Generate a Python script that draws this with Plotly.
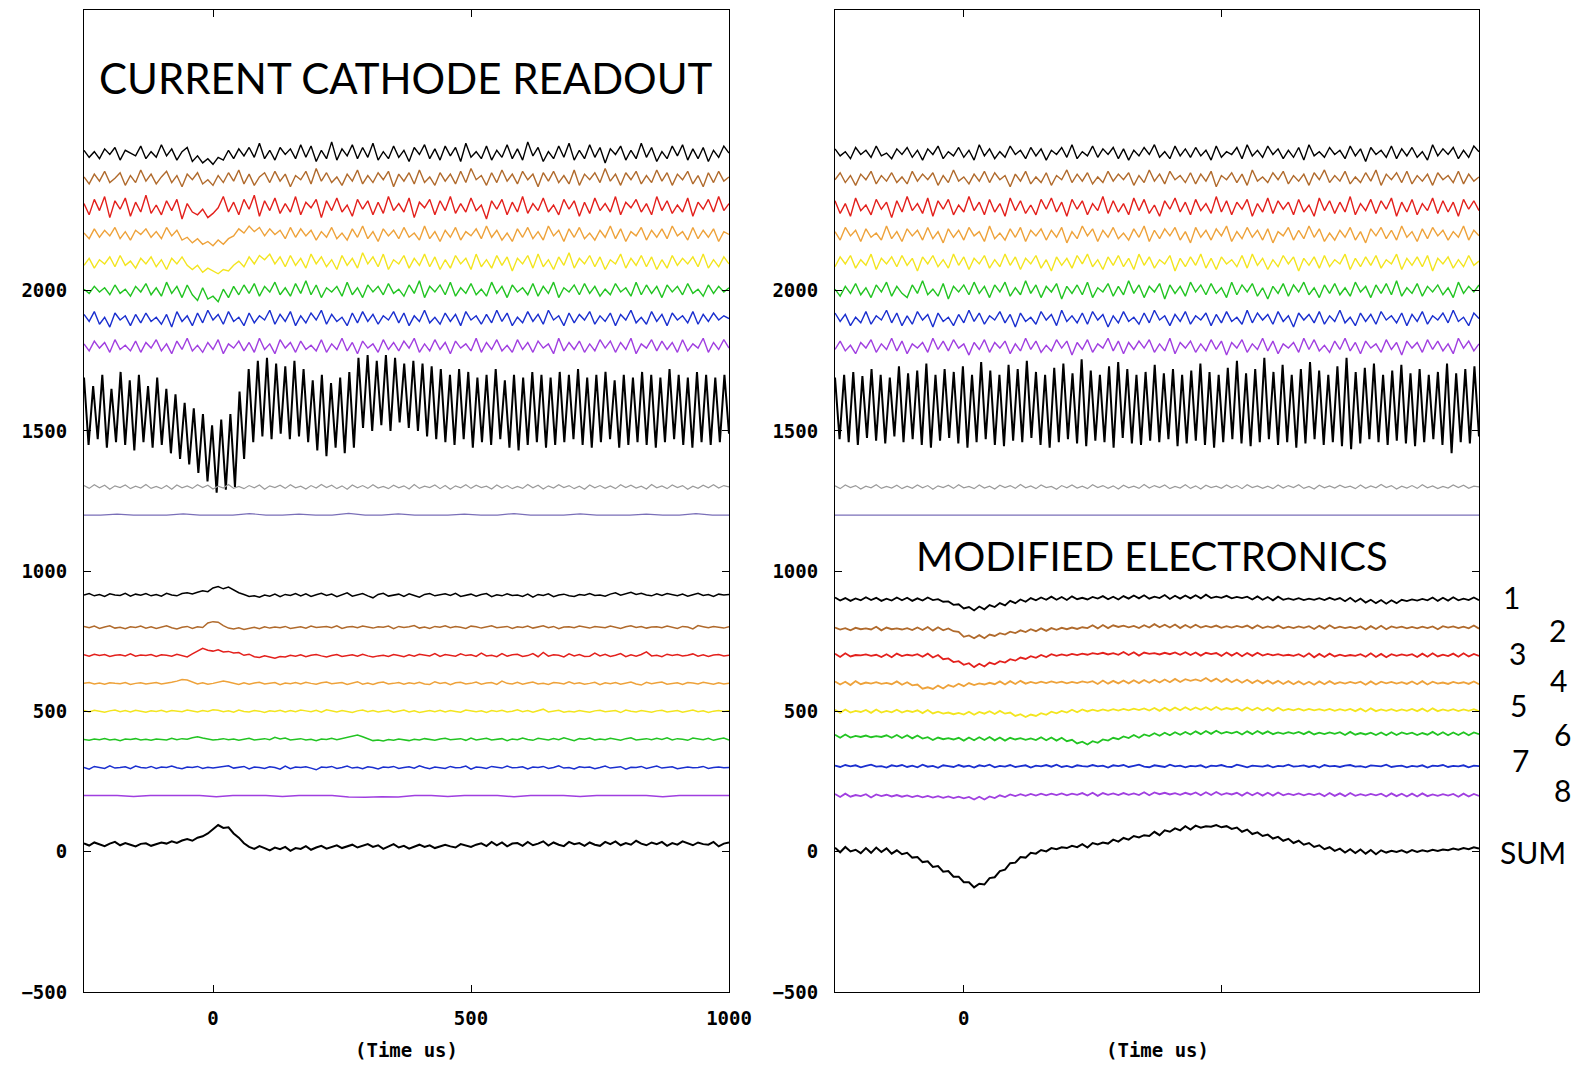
import numpy as np
import plotly.graph_objects as go

# ---------------- DATA ----------------
T_START, T_END = -250, 1000          # time axis (us)
COLORS = ["#000000", "#b06a2c", "#e3201c", "#eea23a", "#f3e51f", "#22c422", "#1a2fcf", "#a03fe0"]

# ---- left panel: "current cathode readout" ----
left_top_base = [2490, 2400, 2300, 2200, 2100, 2000, 1900, 1800]
left_top_dev = [
    [10,-15,5,-20,15,-5,20,-25,10,0,-10,25,-20,5, -15,30,-10,15,-25,5,20,-30,-10,-35,-20,-40,-15,-25,
     10,-20,15,-10,20,-15,35,-20,10,-25,20,-5,15,-20, 30,-15,25,-30,10,-20,40,-25,15,-10,30,-20,20,-15,
     35,-25,5,-20,25,-15,10,-30,20,-5,30,-20,15,-25, 25,-10,20,-30,35,-15,5,-20,25,-25,10,-15,30,-20,
     15,-25,40,-10,20,-30,5,-20,25,-15,35,-25,10,-20, 30,-15,20,-35,15,-5,25,-25,10,-20,35,-15,20,-30,
     5,-20,25,-10,30,-25,15,-20,20,-30,10,-15,25,0],
    [5,-20,15,-10,25,-15,0,20,-25,10,-15,30,-10,15, -20,5,25,-15,10,-30,15,-5,20,-20,-5,-25,10,-15,
     20,-10,30,-20,15,-25,5,20,-15,25,-10,15,-30,10, -5,25,-20,35,-10,20,-15,5,-25,15,-10,30,-20,10,
     -15,20,-5,25,-30,15,-10,20,-20,30,-15,5,-25,20, -10,15,-20,25,-15,35,-5,10,-25,20,-15,30,-10,15,
     -20,25,-5,15,-30,20,-10,25,-15,10,-20,30,-25,15, -5,20,-15,35,-10,15,-25,20,-5,25,-20,10,-15,30,
     -10,20,-25,15,-5,25,-20,10,-30,20,-15,25,-10,5],
    [10,-30,25,-15,35,-40,20,-10,30,-35,15,-20,40,-25, 5,-30,20,-15,25,-45,10,-20,-30,-10,-40,-25,-5,35,
     -20,15,-30,25,-10,40,-35,20,-15,30,-25,10,-20,35, -30,15,-5,25,-40,20,-15,30,-20,5,-35,25,-10,20,
     -30,15,-25,35,-15,10,-20,30,-40,15,-5,25,-30,20, -15,35,-25,10,-20,30,-15,5,-45,20,-10,25,-30,15,
     -20,35,-25,10,-15,30,-20,5,-30,25,-10,20,-35,15, -25,30,-15,10,-20,35,-30,15,-5,25,-20,10,-30,35,
     -15,20,-25,5,-20,30,-35,15,-10,25,-20,35,-15,10],
    [5,-15,20,-10,15,-5,25,-15,10,-20,15,0,20,-10, 10,-15,25,-5,15,-20,-10,-30,-15,-35,-25,-40,-20,-35,
     -15,-5,20,5,30,10,25,-5,20,0,15,-15,25,-10, 20,-5,15,-20,10,-10,25,-15,5,-20,20,-10,30,-15,
     10,-25,20,-5,15,-15,25,-10,5,-20,30,-15,10,-25, 15,-10,25,-20,10,-5,20,-15,30,-10,15,-20,5,-25,
     20,-10,25,-15,10,-20,30,-5,15,-25,20,-10,25,-15, 5,-20,15,-10,30,-15,20,-25,10,-5,25,-20,15,-10,
     20,-15,30,-5,10,-20,25,-15,15,-10,20,-25,10,0],
    [-10,15,-20,10,-5,20,-15,25,-10,5,-20,15,-5,20, -15,10,-25,15,-5,20,-10,-25,-10,-35,-20,-30,-40,-25,
     -30,-10,5,-15,20,-5,25,10,30,-5,20,-15,25,-10, 15,-20,30,-5,20,-15,10,-25,25,-10,15,-20,35,-5,
     20,-15,30,-25,10,-5,25,-20,15,-10,30,-15,20,-25, 10,-20,25,-5,15,-25,30,-15,10,-20,25,-10,20,-30,
     15,-5,25,-20,30,-15,10,-25,20,-10,35,-20,15,-5, 25,-15,20,-25,10,-5,30,-20,15,-10,25,-15,20,-25,
     10,-20,25,-10,15,-5,20,-15,30,-20,10,-15,20,-5],
    [5,-10,15,-5,10,-15,20,-10,5,-20,15,-5,25,-15, 10,-20,30,-10,15,-25,20,-15,-35,10,-30,-20,-40,5,
     -25,15,-15,20,-10,25,-20,15,-5,30,-15,10,-20,25, -10,35,-15,20,-25,10,-5,15,-20,30,-15,10,-25,20,
     -5,15,-15,25,-10,5,-20,20,-10,35,-25,15,-5,20, -15,30,-20,10,-10,25,-15,5,-20,30,-10,15,-25,20,
     -5,10,-15,25,-20,15,-10,30,-25,10,-5,20,-15,25, -10,15,-20,5,-15,25,-5,10,-20,30,-15,20,-10,15,
     -25,20,-5,15,-15,25,-10,5,-20,20,-10,15,-5,10],
    [15,-10,25,-20,5,-30,20,-5,10,-25,15,-15,20,-10, 5,-20,15,-30,25,-10,10,-25,20,-15,30,-5,15,-20,
     25,-10,5,-25,20,-15,10,-5,30,-20,15,-10,25,-25, 10,-15,20,-5,30,-20,15,-10,5,-25,20,-15,25,-10,
     15,-20,10,-5,25,-15,20,-25,10,-10,30,-15,5,-20, 20,-10,15,-25,25,-5,10,-20,15,-15,30,-10,20,-25,
     5,-15,25,-10,15,-20,30,-5,10,-25,20,-15,15,-5, 25,-20,10,-10,20,-25,15,-5,30,-15,5,-20,25,-10,
     15,-25,20,-5,10,-15,25,-20,15,-10,20,-5,10,0],
    [10,-15,20,-5,15,-20,25,-10,5,-15,20,-20,15,-5, 25,-15,10,-25,20,-10,30,-15,5,-20,15,-10,25,-25,
     10,-5,20,-15,15,-20,30,-10,10,-25,25,-5,15,-20, 20,-10,5,-15,25,-20,10,-10,30,-15,15,-25,20,-5,
     10,-20,25,-10,15,-15,20,-5,30,-20,10,-15,25,-10, 15,-25,20,-5,10,-15,30,-20,15,-10,25,-15,5,-20,
     25,-10,15,-20,20,-5,10,-25,30,-15,15,-10,20,-20, 10,-15,25,-5,20,-20,15,-10,30,-25,10,-5,25,-15,
     20,-10,15,-20,25,-15,10,-5,30,-20,15,-10,25,-5],
]
# big oscillating black trace: successive peak / trough values
left_osc_high = [1690,1660,1700,1650,1710,1680,1700,1660,1690, 1650,1630,1600,1580, 1560,1520,1540,1560,
                 1640,1720, 1750,1760,1740,1730,1750,1720, 1680,1700,1670,1690,1710,
                 1760,1770,1750,1770,1760,1740,1750,
                 1740,1730,1720,1700,1720,1710,1690,1700,1720,1680,1700,1690,1710,1700,
                 1690,1710,1700,1720,1690,1700,1710,1680,1700,1690,1710,1700,1690,1720,1700,1690,1710,1700,1690,1700]
left_osc_low = [1450,1470,1440,1460,1450,1430,1460,1440,1450, 1420,1400,1380,1350, 1320,1280,1290,1300,
                1400,1460, 1480,1470,1490,1470,1480,1460, 1430,1410,1440,1420,1440,
                1510,1500,1520,1500,1530,1510,1500,
                1480,1470,1460,1450,1470,1440,1460,1450,1470,1440,1430,1450,1460,1440,
                1450,1460,1470,1450,1440,1460,1470,1440,1450,1460,1450,1440,1460,1470,1450,1440,1460,1450,1460,1490]
left_gray_base = 1300
left_gray_dev = [5,-5,8,-3,6,-8,4,-2,7,-6,3,-4,9,-5, 2,-6,5,-8,7,-3,4,-5,8,-2,6,-7,3,-4,
                 9,-5,2,-6,5,-3,7,-8,4,-2,6,-5,8,-3, 3,-7,5,-4,9,-2,6,-6,4,-8,7,-3,5,-5,
                 8,-4,2,-6,6,-3,4,-7,9,-5,3,-2,7,-6, 5,-8,4,-3,8,-5,6,-2,3,-7,7,-4,5,-6,
                 2,-5,9,-3,6,-7,4,-4,8,-2,5,-6,3,-8, 7,-3,5,-5,4,-6,8,-2,6,-4,3,-7,9,-3,
                 4,-6,7,-2,5,-8,3,-5,6,-3,8,-4,5,0]
left_slate_base = 1200
left_slate_dev = [0,0,3,0,0,0,4,0,0,0,5,0,0,3,0,0,6,0,0,4,0,0,0,3,0,0,5,0,0,0,4,0,0,0,3,0,0,5,0,0]

left_low_base = [915, 800, 700, 600, 500, 400, 300, 200]
left_low_dev = [
    [0,5,-3,2,-5,4,0,-2,6,-4,3,-1,5,-3, 2,-4,6,0,-3,5,8,4,10,15,12,25,30,22,
     28,18,8,2,-5,-3,-8,0,-4,3,-6,2,-2,5, -3,4,-5,1,6,-2,3,-6,2,8,-4,0,5,-3,
     -10,2,6,-4,0,3,-5,4,-2,-8,2,5,-3,1, 4,-2,6,-5,0,3,-4,2,5,-6,1,-3,4,-2,
     0,-5,3,-8,2,-2,4,-6,0,3,-3,-5,2,-1, 5,-2,0,-4,3,8,-1,4,10,2,6,0,-3,4,
     -2,5,0,-3,3,-4,1,6,-2,2,-5,3,0,2],
    [3,-2,4,-4,1,5,-3,0,-5,2,-1,4,-3,2, -4,1,5,-2,-6,0,3,-4,2,-1,15,20,18,6,
     -3,-6,-2,-8,-4,0,-5,2,-3,1,-2,3,-4,0, 2,-3,4,-1,0,3,-2,5,-4,1,3,-2,4,0,
     -3,2,0,4,-5,3,-1,2,6,-3,1,-4,3,0, 5,-2,3,0,-4,4,2,-3,1,5,-2,0,3,-4,
     2,-1,4,-3,0,5,-2,3,-5,1,2,-2,4,0, -3,3,1,-2,4,0,-4,2,5,-1,3,-3,1,2,
     -2,4,0,-4,3,1,-6,6,2,-2,3,0,-3,2],
    [2,-3,4,-1,3,-4,0,2,-2,5,-3,1,-1,3, -4,2,0,-3,4,-1,-6,5,15,25,18,15,20,12,
     14,8,10,0,4,-5,-8,-2,-6,-10,-4,-6,0,-3, 2,-5,0,3,-2,-6,-1,3,-4,0,2,-3,4,-2,
     -6,-2,0,-4,3,-1,-5,2,-3,4,0,-2,6,-4, 3,0,-3,5,-1,2,-4,8,-2,0,-5,6,-3,2,
     4,-4,-1,6,-5,10,-3,2,0,-6,5,-2,3,-4, -3,8,-2,4,-4,0,6,-5,2,-3,3,12,-2,0,
     -5,4,-1,3,-2,0,5,-3,2,-4,1,3,-2,0],
    [0,3,-2,1,-3,2,0,-1,3,-4,0,2,-2,1, 3,-2,0,4,8,14,12,6,-2,2,-3,0,4,8,
     5,0,-4,2,-3,1,4,-2,0,3,-5,1,-1,3, -2,4,0,-3,2,5,-1,0,3,-4,2,6,-3,1,
     -4,2,5,-2,0,3,-3,2,-1,4,-2,-4,6,0, 3,-5,2,4,-2,0,5,-3,1,3,-4,8,0,-2,
     4,-3,1,5,-2,0,-4,3,1,-2,6,-1,2,-3, 0,4,-5,2,-1,3,-3,0,5,-2,-6,4,-1,2,
     5,-3,0,2,-4,3,1,-2,4,0,-3,2,-2,0],
    [3,-2,4,0,-3,2,5,-1,3,-2,4,1,-3,2, 0,4,-2,3,1,-1,5,2,-2,3,0,6,4,-1,
     2,-3,5,0,-2,3,1,-4,2,0,4,-2,3,-1, 5,2,-1,4,-3,6,1,-2,3,0,-4,2,5,-1,
     3,-2,0,4,-3,1,5,-2,2,-4,0,3,-1,4, -2,3,0,-3,5,1,-1,2,-4,3,0,4,-2,1,
     6,-1,3,-3,2,8,-2,0,4,-3,1,-2,3,0, -3,2,4,-1,0,3,-4,5,1,-2,3,0,-3,2,
     4,-2,1,3,-3,0,5,-1,2,-4,1,3,0,2],
    [0,-3,2,-1,3,-2,1,-4,2,0,3,-2,1,-3, 2,0,-2,4,-1,3,1,6,10,5,2,-2,0,3,
     -1,2,-3,1,4,-2,0,3,-1,8,2,5,-2,0, 3,-2,1,-4,2,0,4,-1,3,6,12,16,10,4,
     -4,-2,-5,0,-3,2,-1,-4,1,-2,3,0,-3,2, 4,-1,0,3,-3,5,-2,1,4,-2,0,3,-4,2,
     -1,5,0,-3,4,2,-2,3,-1,6,0,-4,3,1, 5,-2,2,-1,4,0,-3,3,6,-2,1,3,-1,4,
     0,6,-2,3,1,-3,5,2,-1,4,-3,2,5,-2],
    [0,-6,4,0,-3,6,-2,0,3,-4,5,0,-2,4, -3,2,0,5,-1,-4,2,0,4,-3,1,-2,0,3,
     6,-2,0,4,-5,2,0,-3,3,0,-6,5,-4,2, 0,3,-2,-8,2,0,4,-3,0,5,-2,1,-4,3,
     0,-5,2,0,4,-3,0,3,-2,6,0,-4,2,0, -3,4,-1,0,5,-6,2,0,-3,4,0,-2,5,-1,
     0,3,-5,2,0,4,-3,0,6,-2,0,-5,3,0, 2,-4,0,5,-2,0,3,-6,1,0,4,-3,0,5,
     -2,0,3,-4,0,2,-1,0,4,-3,0,2,-1,0],
    [0,0,0,-3,0,0,0,0,-4,0,0,0,-3,0,0,0,-5,-6,-4,-5,0,0,-3,0,0,0,-4,0,0,0,-3,0,0,0,0,-4,0,0,0,0],
]
left_sum_base = 25
left_sum_dev = [5,-3,8,2,-5,4,10,-2,6,0,-6,3,5,-4, 2,8,4,12,6,15,20,14,25,30,40,55,70,60,
                62,40,25,5,-8,-15,-5,-12,-20,-10,-16,-8,-22,-12, -15,-5,-18,-10,-4,-14,-8,-2,-12,-6,0,-10,-4,2,
                -8,-2,-15,-5,2,-10,-4,-14,-6,0,-8,-2,-12,-5, 0,-6,-10,2,-4,-8,0,5,-5,10,-2,8,-6,4,
                6,-4,10,-2,4,12,-3,8,0,-5,10,2,6,-4, 8,0,-4,10,2,12,-2,6,0,14,4,-2,8,2,
                10,-4,6,0,12,4,-2,8,2,0,10,-6,4,8]

# ---- right panel: "modified electronics" ----
right_top_base = [2490, 2400, 2300, 2200, 2100, 2000, 1900, 1800]
right_top_dev = [
    [15,-10,5,-20,20,-5,10,-15,25,-10,0,-20,15,-5, 20,-15,10,-25,15,-5,25,-20,5,-10,20,-15,10,-25,
     30,-10,15,-20,5,-15,25,-5,10,-20,20,-10,15,-25, 10,-5,20,-15,30,-20,5,-10,25,-15,15,-5,20,-20,
     15,-25,10,-10,20,-5,30,-15,5,-20,25,-10,15,-15, 20,-10,10,-25,25,-15,5,-5,20,-20,30,-10,10,-15,
     25,-5,15,-20,10,-15,20,-25,30,-10,5,-15,20,-5, 10,-20,25,-10,15,-30,20,-5,10,-15,25,-20,15,-10,
     20,-15,5,-25,30,-10,15,-5,20,-20,10,-15,25,5],
    [-5,20,-15,10,-25,15,-5,25,-20,10,-10,20,-15,5, -20,25,-10,15,-5,20,-25,10,-15,30,-10,5,-20,15,
     -10,25,-15,20,-5,10,-30,15,-10,25,-20,5,-15,20, -25,10,-5,30,-15,15,-10,20,-20,5,-15,25,-10,15,
     -5,20,-25,10,-15,30,-10,15,-20,25,-5,10,-15,20, -20,15,-10,25,-30,10,-5,20,-15,15,-25,30,-10,5,
     -15,20,-5,25,-20,10,-10,15,-25,20,-5,30,-15,10, -10,25,-20,5,-15,20,-10,30,-25,15,-5,20,-15,25,
     -20,10,-10,15,-25,20,-5,10,-15,25,-20,15,-10,5],
    [20,-25,10,-35,30,-15,5,-30,25,-10,15,-40,20,-20, 35,-15,10,-25,30,-35,20,-10,25,-30,5,-20,35,-15,
     15,-30,25,-20,10,-35,30,-15,20,-25,5,-30,25,-10, 30,-20,15,-35,25,-10,20,-30,10,-15,35,-25,20,-20,
     10,-30,30,-15,25,-25,5,-35,20,-10,30,-20,15,-30, 25,-15,10,-25,35,-20,20,-30,15,-10,25,-35,10,-20,
     30,-25,20,-10,15,-30,25,-20,5,-35,30,-15,20,-25, 15,-20,35,-30,10,-15,25,-25,20,-10,30,-35,15,-20,
     25,-30,10,-15,30,-25,20,-20,15,-35,25,-10,20,-15],
    [10,-20,25,-5,15,-25,20,-10,5,-20,30,-15,10,-25, 20,-5,15,-20,25,-15,10,-30,20,-10,15,-20,25,-5,
     10,-25,30,-15,5,-20,20,-10,25,-25,15,-5,20,-20, 15,-10,25,-30,10,-15,30,-5,20,-25,15,-10,25,-15,
     5,-20,20,-10,30,-25,15,-15,20,-5,25,-20,10,-30, 25,-10,15,-20,20,-5,30,-25,10,-15,25,-10,15,-20,
     20,-30,10,-5,25,-20,15,-15,30,-10,20,-25,5,-20, 15,-10,25,-20,10,-30,20,-5,25,-15,15,-20,30,-10,
     10,-25,20,-15,25,-5,15,-20,10,-10,30,-20,15,-5],
    [-15,20,-5,25,-20,10,-10,30,-25,15,-5,20,-15,25, -10,15,-30,20,-5,25,-15,10,-20,30,-10,20,-25,15,
     -5,25,-20,10,-15,30,-10,20,-25,15,-5,25,-20,10, -30,20,-10,15,-20,25,-5,30,-15,10,-25,20,-10,25,
     -15,15,-25,30,-10,20,-20,10,-5,25,-30,15,-15,20, -10,30,-20,15,-25,20,-5,10,-15,25,-20,30,-10,15,
     -25,10,-15,25,-5,20,-30,15,-10,20,-20,25,-15,10, -5,30,-25,15,-15,20,-10,25,-20,10,-5,30,-25,15,
     -10,20,-15,25,-30,15,-5,20,-20,10,-15,25,-10,5],
    [5,-20,15,-10,25,-15,10,-25,20,-5,30,-20,15,-10, -25,20,-10,35,-15,5,-20,25,-30,15,-5,20,-15,30,
     -10,15,-25,20,-5,30,-20,10,-15,35,-10,20,-25,15, -5,25,-30,15,-10,20,-15,30,-25,10,-5,25,-20,15,
     -15,35,-10,20,-25,15,-5,25,-30,20,-10,15,-20,30, -5,20,-15,25,-10,10,-25,30,-15,20,-5,25,-20,10,
     -30,15,-10,25,-20,20,-5,30,-15,10,-25,20,-10,25, -15,10,-20,30,-5,15,-25,20,-10,25,-15,35,-20,10,
     -10,25,-20,15,-5,20,-15,10,-25,30,-10,15,-5,20],
    [20,-10,15,-25,5,-15,25,-20,10,-5,30,-15,20,-25, 10,-20,25,-5,15,-30,20,-10,5,-25,15,-15,30,-10,
     20,-20,10,-5,25,-15,15,-30,20,-10,5,-20,25,-5, 15,-25,30,-10,10,-15,20,-20,25,-5,15,-30,10,-15,
     25,-10,5,-20,20,-15,30,-5,10,-25,15,-10,25,-20, 10,-5,20,-25,15,-15,25,-10,5,-20,30,-15,20,-5,
     15,-20,25,-10,10,-30,20,-5,15,-15,25,-20,10,-10, 30,-15,5,-25,20,-10,15,-20,25,-5,10,-15,20,-25,
     15,-10,25,-20,10,-5,20,-15,30,-10,5,-25,20,0],
    [-10,20,-15,5,-25,15,-5,25,-20,10,-10,30,-15,20, -25,10,-5,15,-20,30,-10,20,-15,25,-5,10,-30,15,
     -10,25,-20,15,-5,20,-25,10,-15,30,-10,20,-20,5, -15,25,-5,20,-30,15,-10,25,-20,10,-5,30,-15,20,
     -25,15,-10,20,-5,25,-20,10,-15,30,-25,15,-5,20, -20,10,-15,25,-10,20,-30,15,-5,25,-20,10,-10,30,
     -15,20,-25,10,-5,15,-20,30,-10,25,-15,5,-20,20, -10,30,-15,15,-25,20,-5,10,-20,25,-10,15,-30,20,
     -5,15,-20,25,-10,20,-15,10,-25,30,-5,20,-15,10],
]
right_osc_high = [1690,1700,1710,1695,1720,1700,1690,1730,1705,1715,1740,1700,1720,1710,1730,1700,1745,1715,
                  1700,1735,1720,1750,1710,1700,1725,1740,1705,1755,1715,1700,1730,1745,1720,1700,1710,1735,
                  1705,1720,1700,1715,1740,1710,1700,1725,1750,1705,1720,1760,1710,1735,1700,1720,1745,1715,
                  1700,1730,1760,1710,1725,1740,1700,1715,1735,1705,1720,1700,1710,1740,1705,1720,1730]
right_osc_low = [1470,1460,1450,1475,1465,1455,1480,1460,1470,1450,1440,1465,1475,1455,1440,1460,1470,1450,
                 1445,1465,1460,1475,1450,1440,1460,1470,1455,1445,1465,1460,1440,1475,1455,1450,1465,1460,
                 1470,1445,1455,1465,1450,1440,1460,1470,1455,1445,1460,1470,1450,1460,1440,1455,1470,1450,
                 1460,1445,1435,1455,1470,1460,1450,1465,1455,1445,1460,1470,1450,1420,1460,1455,1480]
right_gray_base = 1300
right_gray_dev = [4,-6,7,-2,5,-7,3,-3,8,-5,2,-4,6,-6, 3,-5,7,-3,5,-8,4,-2,6,-5,8,-3,2,-6,
                  7,-4,3,-7,6,-2,5,-5,9,-3,4,-6,7,-2, 2,-8,5,-3,7,-4,3,-6,8,-2,5,-5,4,-7,
                  6,-3,3,-5,9,-4,5,-2,7,-6,2,-4,8,-5, 4,-7,6,-2,3,-5,7,-3,5,-6,8,-2,4,-5,
                  3,-6,7,-4,5,-2,8,-5,2,-7,6,-3,4,-4, 6,-2,3,-6,7,-5,4,-3,9,-2,5,-7,3,-4,
                  5,-5,8,-3,4,-6,2,-4,7,-2,6,-5,3,0]
right_slate_base = 1200
right_slate_dev = [0, 0]

right_low_base = [900, 795, 700, 600, 500, 410, 305, 200]
right_low_dev = [
    [6,-5,4,-6,3,-4,7,-3,5,-6,2,-5,6,-4, 5,-6,3,-5,6,-3,0,-9,-8,-20,-18,-33,-28,-40,
     -26,-36,-21,-28,-14,-22,-6,-14,-1,-9,4,-4,6,-2, 9,-2,8,-3,10,0,5,-1,8,2,11,0,9,-1,
     11,2,13,3,14,2,9,4,15,1,12,2,13,3, 14,3,16,4,9,5,12,3,8,4,9,-1,10,-2,
     8,-4,9,-2,3,-2,4,-3,2,-2,4,-3,5,-2, 4,-7,5,-9,2,-12,-2,-14,-3,-16,-4,-14,-2,-7,
     -1,-5,1,-4,6,-6,5,-5,7,-4,2,-3,6,-4],
    [4,-3,2,-6,3,-2,1,-3,7,-6,4,-2,1,-3, 2,-5,4,-5,6,-7,5,-6,1,-9,-11,-29,-24,-34,
     -23,-34,-21,-26,-16,-21,-11,-16,-6,-12,-2,-9,1,-8, 2,-4,3,-2,4,-1,5,2,12,1,13,2,12,6,
     11,5,10,2,12,4,16,5,14,4,15,2,13,3, 14,4,10,5,11,3,9,4,10,5,11,1,12,2,
     8,3,11,1,7,2,8,3,9,-1,10,0,12,1, 7,2,6,1,8,-3,9,-1,10,-2,8,3,7,1,
     6,1,7,2,8,-2,9,4,8,2,7,1,11,0],
    [6,-6,7,-4,1,0,3,-2,2,-6,4,-7,6,-3, 2,-1,4,-5,6,-8,1,-14,-11,-24,-21,-34,-28,-42,
     -30,-40,-26,-32,-21,-26,-14,-19,-8,-13,-3,-9,1,-6, 4,-2,3,-1,5,1,6,2,8,4,9,3,8,2,
     12,1,11,-1,10,5,8,3,9,4,10,2,11,1, 10,-1,9,4,8,-2,10,-1,9,-3,8,-2,9,-1,
     5,0,4,-1,2,-2,4,-5,7,-7,5,-6,6,-4, 2,-3,1,-2,4,-5,7,-6,5,-7,4,-2,3,-1,
     4,-6,6,-5,7,-4,2,-3,6,-5,7,-4,5,-2],
    [7,-4,6,-6,8,-3,3,-1,4,-2,2,-3,7,-5, 4,-7,-4,-19,-14,-20,-8,-18,-6,-12,-1,-10,1,-6,
     0,-4,2,-3,7,-4,8,-2,9,-1,5,0,6,1, 7,2,6,0,5,1,7,3,8,-2,10,-1,9,0,
     10,0,11,1,12,2,13,3,14,4,16,5,15,9, 14,8,19,7,17,5,16,4,14,2,13,1,11,0,
     10,-1,9,-2,8,-3,7,-4,6,-5,7,-3,8,-2, 4,-1,5,0,6,-5,7,-4,6,0,5,-1,4,-2,
     7,-3,8,-4,6,-1,3,-2,5,0,4,-2,7,-3],
    [6,-5,7,-4,2,-2,5,-5,7,-4,2,-3,6,-4, 3,-2,4,-6,5,-7,-1,-8,-4,-10,-5,-11,-1,-12,
     -2,-8,1,-9,2,-8,-4,-16,-10,-20,-11,-16,-6,-12, -1,-7,2,-4,6,-3,7,0,6,1,7,2,8,3,
     9,4,10,5,11,3,12,2,13,3,14,4,15,5, 14,6,15,5,16,6,12,7,13,3,14,4,13,3,
     12,2,13,3,9,4,10,3,9,4,8,3,9,2, 8,3,9,1,10,0,11,1,7,2,8,1,7,2,
     9,1,10,0,11,1,7,2,8,1,7,2,8,1],
    [7,-4,8,-3,3,-1,4,-2,2,-1,5,-4,6,-5, 5,-6,4,-7,-2,-12,-3,-9,-5,-10,-4,-14,-3,-13,
     -2,-12,-1,-13,-3,-14,-4,-10,-5,-11,-6,-12,-2,-13, -3,-14,-4,-16,-11,-24,-18,-28,-16,-22,-10,-14,-4,-9,
     1,-5,6,-4,8,2,12,3,14,5,16,7,17,8, 19,9,20,10,21,11,17,12,18,8,19,9,20,10,
     19,9,15,10,16,11,17,9,18,8,14,9,15,10, 16,6,17,7,13,8,14,6,15,5,16,6,15,9,
     14,6,13,7,17,6,16,5,15,6,16,5,15,9],
    [2,-3,4,-1,3,-4,1,5,-2,0,-5,3,-1,4, -3,2,-4,5,-2,1,-6,3,0,-3,4,-2,2,-5,
     3,-1,5,-4,1,-2,4,-3,0,3,-5,2,-1,4, -2,5,-3,1,-4,3,0,-2,4,-1,2,-5,3,0,
     4,-3,1,5,-2,-4,3,0,-3,5,-1,2,-4,1, -1,3,-5,2,0,4,-2,-3,5,1,-4,2,0,-2,
     3,-4,1,-1,5,-2,0,3,-3,2,-5,4,-1,1, -3,2,4,-2,0,-4,3,1,-1,5,-3,0,2,-4,
     1,-2,3,-5,2,0,4,-3,1,-1,3,-4,2,0],
    [6,-5,7,-4,2,-2,5,-7,4,-2,3,-3,2,-4, 1,-5,0,-6,-1,-7,-2,-8,-3,-9,-4,-10,-5,-14,
     -4,-14,-3,-9,1,-5,4,-2,5,-1,6,0,7,1, 7,2,8,1,7,3,9,0,10,-1,9,3,8,2,
     9,3,8,2,12,1,11,5,10,4,9,3,10,4, 11,1,12,2,13,3,9,4,10,0,11,1,10,0,
     10,0,11,1,7,2,8,1,7,2,8,-2,9,-1, 8,-2,9,-1,5,0,6,1,7,-3,8,-2,7,-3,
     7,-3,8,-2,4,-1,5,0,6,-4,7,-3,6,-1],
]
right_sum_base = 5
right_sum_dev = [9,-7,12,-4,2,-10,8,-9,10,-6,7,-12,0,-14, -9,-26,-24,-42,-39,-59,-56,-76,-74,-94,-94,-114,-114,-132,
                 -119,-122,-99,-96,-74,-69,-46,-44,-24,-26,-9,-12,1,-4, 8,4,11,8,16,11,22,10,26,21,28,24,38,31,
                 44,38,51,46,54,51,66,54,71,66,78,71,86,74, 88,81,86,84,90,82,86,76,81,66,74,58,64,51,
                 56,42,48,34,41,26,34,20,26,12,18,4,11,-2, 6,-8,4,-10,3,-12,1,-14,0,-8,-2,-6,0,-8,
                 1,-6,0,-4,2,-2,3,0,6,2,8,4,11,6]

Y_TICKS = [-500, 0, 500, 1000, 1500, 2000]
X_TICKS = [0, 500, 1000]
LEFT_X_LABELS = ["0", "500", "1000"]
RIGHT_X_LABELS = ["0", "", ""]
TITLES = ["CURRENT CATHODE READOUT", "MODIFIED ELECTRONICS"]
CHANNEL_LABELS = ["1", "2", "3", "4", "5", "6", "7", "8", "SUM"]

# ---------------- FIGURE ----------------
fig = go.Figure()


def add_line(base, dev, color, xa, ya, width=1.3, shape="linear"):
    dev = np.asarray(dev, dtype=float)
    t = np.linspace(T_START, T_END, len(dev))
    fig.add_trace(go.Scatter(x=t, y=base + dev, mode="lines", xaxis=xa, yaxis=ya,
                             line=dict(color=color, width=width, shape=shape),
                             hoverinfo="skip", showlegend=False))


def add_osc(high, low, xa, ya):
    n = min(len(high), len(low))
    vals = np.empty(2 * n)
    vals[0::2] = high[:n]
    vals[1::2] = low[:n]
    add_line(0, vals, "#000000", xa, ya, width=2.0)


for xa, ya, tb, td, oh, ol, gb, gd, sb, sd, lb, ld, smb, smd, lw in [
    ("x", "y", left_top_base, left_top_dev, left_osc_high, left_osc_low, left_gray_base, left_gray_dev,
     left_slate_base, left_slate_dev, left_low_base, left_low_dev, left_sum_base, left_sum_dev, 1.5),
    ("x2", "y2", right_top_base, right_top_dev, right_osc_high, right_osc_low, right_gray_base, right_gray_dev,
     right_slate_base, right_slate_dev, right_low_base, right_low_dev, right_sum_base, right_sum_dev, 1.8),
]:
    for b, d, c in zip(tb, td, COLORS):
        add_line(b, d, c, xa, ya, width=1.4)
    add_osc(oh, ol, xa, ya)
    add_line(gb, gd, "#9a9a9a", xa, ya, width=1.2)
    add_line(sb, sd, "#7a6fb8", xa, ya, width=1.2)
    for b, d, c in zip(lb, ld, COLORS):
        add_line(b, d, c, xa, ya, width=lw)
    add_line(smb, smd, "#000000", xa, ya, width=2.0)

W, H = 1575, 1067
ML, MR, MT, MB = 0, 0, 10, 75
PH = H - MT - MB


def px_x(p):
    return p / W


def px_y(p):
    return (H - MB - p) / PH


tick_font = dict(family="DejaVu Sans Mono", size=19, color="black", weight="bold")
common_x = dict(range=[T_START, T_END], showgrid=False, zeroline=False, showline=True, linecolor="black",
                linewidth=1, mirror="ticks", ticks="inside", ticklen=7, tickcolor="black", automargin=False,
                tickvals=X_TICKS, tickfont=tick_font, ticklabelstandoff=9)
common_y = dict(range=[-500, 3000], showgrid=False, zeroline=False, showline=True, linecolor="black",
                linewidth=1, mirror="ticks", ticks="inside", ticklen=7, tickcolor="black", automargin=False,
                tickvals=Y_TICKS, tickfont=tick_font, ticklabelstandoff=12)

fig.update_layout(
    width=W, height=H, margin=dict(l=ML, r=MR, t=MT, b=MB, autoexpand=False),
    paper_bgcolor="white", plot_bgcolor="white", showlegend=False,
    xaxis=dict(domain=[px_x(84), px_x(729)], anchor="y", ticktext=LEFT_X_LABELS, **common_x),
    yaxis=dict(domain=[0, 1], anchor="x", **common_y),
    xaxis2=dict(domain=[px_x(835), px_x(1479)], anchor="y2", ticktext=RIGHT_X_LABELS, **common_x),
    yaxis2=dict(domain=[0, 1], anchor="x2", **common_y),
)

anns = []
anns.append(dict(text=TITLES[0], x=px_x(406), y=px_y(78), xref="paper", yref="paper", showarrow=False,
                 font=dict(family="Lato", size=42, color="black"), xanchor="center", yanchor="middle"))
anns.append(dict(text=TITLES[1], x=px_x(1152), y=px_y(556), xref="paper", yref="paper", showarrow=False,
                 font=dict(family="Lato", size=40, color="black"), xanchor="center", yanchor="middle"))
for cx in (406, 1157):
    anns.append(dict(text="(Time us)", x=px_x(cx), y=px_y(1050), xref="paper", yref="paper", showarrow=False,
                     font=tick_font, xanchor="center", yanchor="middle"))
label_pos = [(1511, 597), (1557, 630), (1517, 653), (1558, 680), (1518, 705), (1562, 734), (1520, 760),
             (1562, 790), (1533, 852)]
for lab, (lx, ly) in zip(CHANNEL_LABELS, label_pos):
    anns.append(dict(text=lab, x=px_x(lx), y=px_y(ly), xref="paper", yref="paper", showarrow=False,
                     font=dict(family="Lato", size=30, color="black"), xanchor="center", yanchor="middle"))
fig.update_layout(annotations=anns)

fig.write_html("out.html")
